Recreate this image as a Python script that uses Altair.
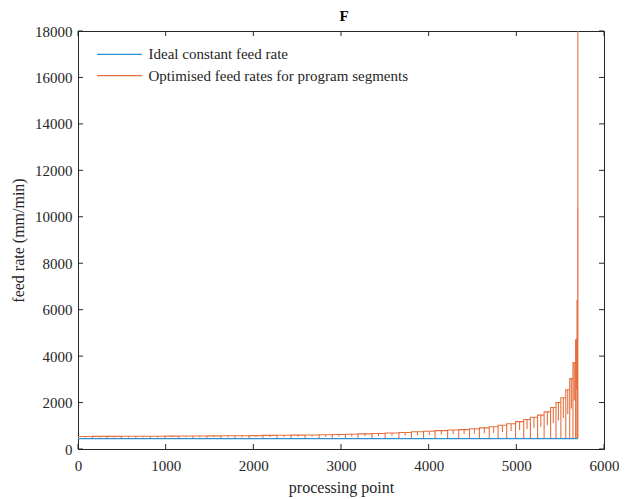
import altair as alt
import pandas as pd

# ---- data ----
x_ticks = [0, 1000, 2000, 3000, 4000, 5000, 6000]
y_ticks = [0, 2000, 4000, 6000, 8000, 10000, 12000, 14000, 16000, 18000]

ideal_x = [0, 5702]
ideal_y = [450, 450]
base_rate = 450

seg_bounds = [0, 165, 330, 495, 660, 825, 990, 1150, 1310, 1470,
              1630, 1790, 1950, 2110, 2270, 2430, 2590, 2750, 2900, 3050,
              3193, 3354, 3503, 3661, 3803, 3942, 4073, 4216, 4343, 4466,
              4579, 4691, 4792, 4890, 4991, 5084, 5160, 5242, 5317, 5391,
              5452, 5508, 5564, 5609, 5646, 5676, 5692, 5700]
seg_levels = [540, 542, 544, 546, 548, 551, 554, 557, 560, 564,
              568, 573, 578, 585, 590, 596, 603, 612, 622, 635,
              650, 668, 688, 710, 740, 765, 790, 815, 835, 870,
              910, 960, 1020, 1090, 1180, 1270, 1370, 1460, 1600, 1790,
              2000, 2210, 2550, 3030, 3720, 4700, 6400]
seg_dips = [495, 496, 497, 498, 499, 500, 502, 503, 505, 507,
            509, 511, 514, 517, 520, 523, 526, 531, 536, 542,
            550, 559, 569, 580, 595, 607, 620, 632, 642, 660,
            680, 705, 735, 770, 815, 860, 910, 955, 1025, 1120,
            1225, 1330, 1500, 1740, 2085, 2575, 3425]
spike_x = [5700, 5700, 5700, 5702, 5702, 5702]
spike_y = [6400, 10400, 2300, 2300, 19000, 450]

series_names = ["Ideal constant feed rate", "Optimised feed rates for program segments"]
colors = ["#2E8FD0", "#E4703F"]
title_text = "F"

# ---- build tables ----
ideal_df = pd.DataFrame({"x": ideal_x, "y": ideal_y, "i": list(range(len(ideal_x)))})
pts = []
for k in range(len(seg_levels)):
    b0, b1 = seg_bounds[k], seg_bounds[k + 1]
    lv, dp = seg_levels[k], seg_dips[k]
    m = (b0 + b1) / 2
    pts += [(b0, base_rate), (b0, lv), (m, lv), (m, dp), (m, lv), (b1, lv)]
pts += list(zip(spike_x, spike_y))
opt_df = pd.DataFrame({"x": [p[0] for p in pts], "y": [p[1] for p in pts],
                       "i": list(range(len(pts)))})

W, H = 526, 418
FONT = "Liberation Serif"
INK = "#262626"
xscale = alt.Scale(domain=[0, 6000], nice=False)
yscale = alt.Scale(domain=[0, 18000], nice=False)
xaxis = alt.Axis(values=x_ticks, ticks=False, labelPadding=9, titlePadding=6,
                 grid=False, format="d", labelFlush=False)
yaxis = alt.Axis(values=y_ticks, ticks=False, labelPadding=6, titlePadding=8,
                 grid=False, format="d", labelFlush=False)
XT = "processing point"
YT = "feed rate (mm/min)"


def xy(df_x="x:Q", df_y="y:Q"):
    return dict(x=alt.X(df_x, scale=xscale, title=XT, axis=xaxis),
                y=alt.Y(df_y, scale=yscale, title=YT, axis=yaxis))


opt_line = alt.Chart(opt_df).mark_line(clip=True, strokeWidth=1.1, color=colors[1]).encode(
    order=alt.Order("i:Q"), **xy())
ideal_line = alt.Chart(ideal_df).mark_line(clip=True, strokeWidth=1.2, color=colors[0]).encode(
    order=alt.Order("i:Q"), **xy())

xt = pd.DataFrame({"v": x_ticks})
yt = pd.DataFrame({"v": y_ticks})
bot = alt.Chart(xt).mark_rule(color=INK).encode(
    x=alt.X("v:Q", scale=xscale, title=XT, axis=xaxis), y=alt.value(H), y2=alt.value(H - 5))
top = alt.Chart(xt).mark_rule(color=INK).encode(
    x=alt.X("v:Q", scale=xscale, title=XT, axis=xaxis), y=alt.value(0), y2=alt.value(5))
left = alt.Chart(yt).mark_rule(color=INK).encode(
    y=alt.Y("v:Q", scale=yscale, title=YT, axis=yaxis), x=alt.value(0), x2=alt.value(5))
right = alt.Chart(yt).mark_rule(color=INK).encode(
    y=alt.Y("v:Q", scale=yscale, title=YT, axis=yaxis), x=alt.value(W - 5), x2=alt.value(W))

# manual legend (MATLAB style, no box)
leg_layers = []
for r, (name, col) in enumerate(zip(series_names, colors)):
    ly = 23.3 + r * 21.4
    ldf = pd.DataFrame({"label": [name]})
    leg_layers.append(alt.Chart(ldf).mark_rule(color=col, strokeWidth=1.3).encode(
        x=alt.value(19), x2=alt.value(64), y=alt.value(ly)))
    leg_layers.append(alt.Chart(ldf).mark_text(
        font=FONT, fontSize=15, color=INK, align="left", baseline="middle").encode(
        x=alt.value(70.5), y=alt.value(ly), text="label:N"))

title_mark = alt.Chart(pd.DataFrame({"t": [title_text]})).mark_text(
    font=FONT, fontSize=15, fontWeight="bold", color="#000000",
    align="center", baseline="alphabetic").encode(
    x=alt.value(266), y=alt.value(-10.5), text="t:N")

chart = alt.layer(opt_line, ideal_line, bot, top, left, right, *leg_layers,
                  title_mark).properties(
    width=W, height=H,
    autosize=alt.AutoSizeParams(type="none"),
    padding={"left": 70, "top": 23, "right": 15, "bottom": 50},
).configure_view(stroke=INK, strokeWidth=1).configure_axis(
    labelFont=FONT, titleFont=FONT, labelFontSize=15, titleFontSize=16,
    titleFontWeight="normal", labelColor=INK, titleColor=INK,
    domainColor=INK)

chart.save("out.html", embed_options={"renderer": "svg", "actions": False})
